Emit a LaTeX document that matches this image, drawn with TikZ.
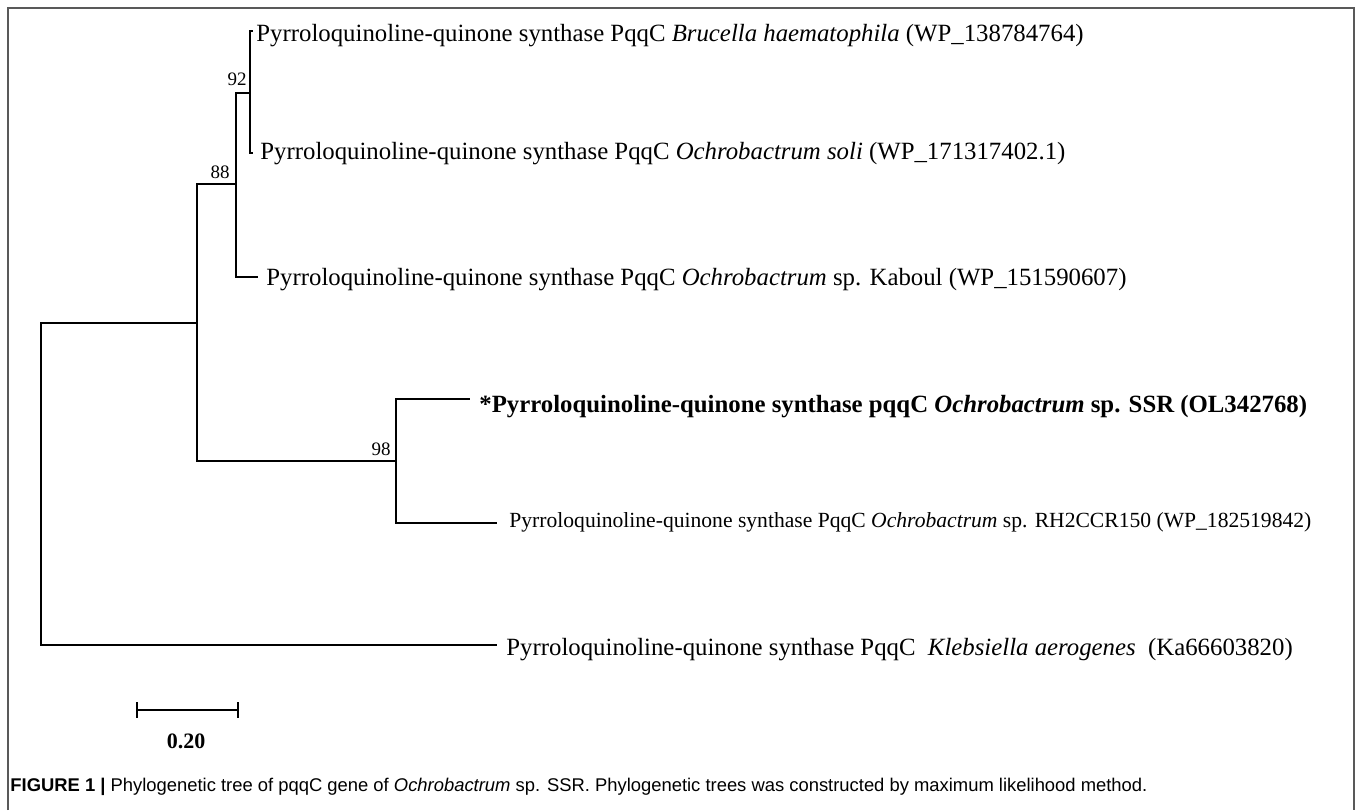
\documentclass[tikz,border=0pt]{standalone}
\usepackage{fontspec}
\setmainfont{Liberation Serif}
\newfontfamily\capfont{Liberation Sans}
\usepackage{tikz}

\begin{document}
\begin{tikzpicture}[x=0.5pt,y=-0.5pt,
  branch/.style={line width=1pt,black},
  taxon/.style={anchor=base west,inner sep=0pt,font=\fontsize{12.4}{14}\selectfont},
  boot/.style={anchor=base east,inner sep=0pt,font=\fontsize{9.5}{11}\selectfont}]
\useasboundingbox (0,0) rectangle (1358,810);
\draw[gray!70!black,line width=1pt] (8,810) -- (8,8) -- (1354,8) -- (1354,810);

\coordinate (root) at (41,484);
\coordinate (ingroup) at (197,323);
\coordinate (n88) at (236,184);
\coordinate (n92) at (250,93);
\coordinate (n98) at (396,461);
\coordinate (tBru) at (253,31);
\coordinate (tSoli) at (253,153);
\coordinate (tKab) at (258,277);
\coordinate (tSSR) at (470,399);
\coordinate (tRH) at (497,523);
\coordinate (tKle) at (497,645);

\draw[branch] (root) |- (ingroup);
\draw[branch] (root) |- (tKle);
\draw[branch] (ingroup) |- (n88);
\draw[branch] (ingroup) |- (n98);
\draw[branch] (n88) |- (n92);
\draw[branch] (n88) |- (tKab);
\draw[branch] (n92) |- (tBru);
\draw[branch] (n92) |- (tSoli);
\draw[branch] (n98) |- (tSSR);
\draw[branch] (n98) |- (tRH);

\node[boot] (b92) at (247,85) {92};
\node[boot] (b88) at (230,178) {88};
\node[boot] (b98) at (391,455) {98};

\node[taxon] (bru) at (256,41) {Pyrroloquinoline-quinone synthase PqqC \textit{Brucella haematophila} (WP\_138784764)};
\node[taxon] (soli) at (260,159) {Pyrroloquinoline-quinone synthase PqqC \textit{Ochrobactrum soli} (WP\_171317402.1)};
\node[taxon] (kab) at (266,285) {Pyrroloquinoline-quinone synthase PqqC \textit{Ochrobactrum} sp. Kaboul (WP\_151590607)};
\node[taxon,font=\fontsize{12.4}{14}\selectfont\bfseries] (ssr) at (479,412) {*Pyrroloquinoline-quinone synthase pqqC \textit{Ochrobactrum} sp. SSR (OL342768)};
\node[taxon,font=\fontsize{10.8}{12}\selectfont] (rh) at (509,527) {Pyrroloquinoline-quinone synthase PqqC \textit{Ochrobactrum} sp. RH2CCR150 (WP\_182519842)};
\node[taxon] (kle) at (506,655) {Pyrroloquinoline-quinone synthase PqqC \ \textit{Klebsiella aerogenes} \ (Ka66603820)};

\draw[branch] (137,702) -- (137,718) (137,710) -- (238,710) (238,702) -- (238,718);
\node[font=\fontsize{11}{12}\selectfont\bfseries,anchor=base] (scale) at (186,748) {0.20};

\node[anchor=base west,inner sep=0pt,font=\capfont\fontsize{9.2}{10}\selectfont] (caption) at (10,791) {\textbf{FIGURE 1 |} Phylogenetic tree of pqqC gene of \textit{Ochrobactrum} sp. SSR. Phylogenetic trees was constructed by maximum likelihood method.};
\end{tikzpicture}
\end{document}
